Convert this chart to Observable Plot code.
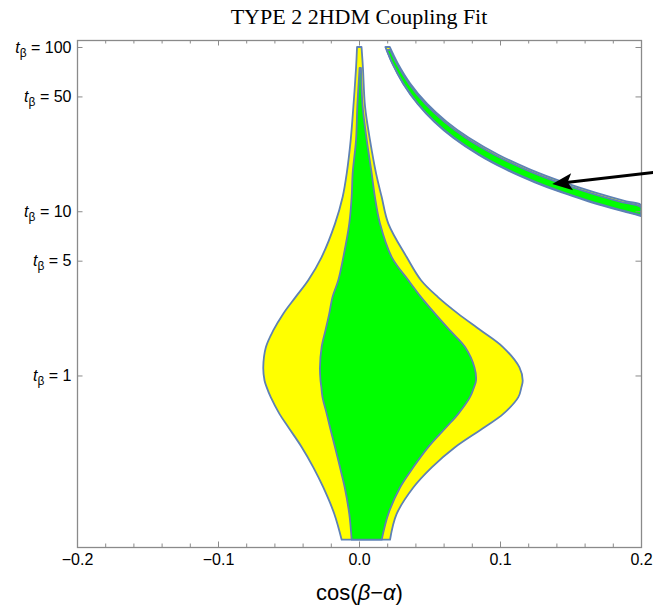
<!DOCTYPE html>
<html><head><meta charset="utf-8">
<script src="https://cdn.jsdelivr.net/npm/d3@7"></script>
<script src="https://cdn.jsdelivr.net/npm/@observablehq/plot@0.6"></script>
<style>
body{margin:0;background:#fff;}
#title{width:653px;height:26px;box-sizing:border-box;padding-left:65px;text-align:center;font-family:"Liberation Serif","Times New Roman",serif;font-size:22px;line-height:34px;color:#000;white-space:nowrap;overflow:visible;}
</style></head><body>
<div id="title">TYPE 2 2HDM Coupling Fit</div>
<div id="chart"></div>
<script>
// ---- data ----
const titleText = "TYPE 2 2HDM Coupling Fit";
const xLabel = "cos(β−α)";
const xMajorTicks = [-0.2, -0.1, 0.0, 0.1, 0.2];
const xMinorTicks = [-0.18,-0.16,-0.14,-0.12,-0.08,-0.06,-0.04,-0.02,0.02,0.04,0.06,0.08,0.12,0.14,0.16,0.18];
const yTicks = [1, 5, 10, 50, 100];

// main 2-sigma (yellow) region: t_beta samples and left / right cos(beta-alpha) edges
const tMain = [0.1,0.1435,0.208,0.276,0.366,0.484,0.584,0.738,0.849,0.932,1.12,1.49,1.88,2.38,3.0,3.8,5.26,8.41,12.2,17.0,27.1,43.3,74.5,100];
const yellowLeft  = [-0.0123,-0.0175,-0.0253,-0.0324,-0.0406,-0.0501,-0.0564,-0.0626,-0.0655,-0.0670,-0.0679,-0.0660,-0.0608,-0.0537,-0.0450,-0.0360,-0.0265,-0.0170,-0.0116,-0.0087,-0.0059,-0.0040,-0.0021,-0.0014];
const yellowRight = [0.0220,0.0267,0.0385,0.0516,0.0681,0.0890,0.1023,0.1130,0.1152,0.1161,0.1138,0.1021,0.0865,0.0702,0.0560,0.0440,0.0338,0.0208,0.0161,0.0121,0.0078,0.0043,0.0028,0.0018];

// main 1-sigma (green) region
const tGreen = [0.1,0.1435,0.208,0.276,0.366,0.484,0.584,0.738,0.849,0.932,1.12,1.49,1.88,2.38,3.0,3.8,5.26,8.41,12.2,17.0,27.1,43.3,74.5];
const greenLeft  = [-0.0052,-0.0069,-0.0101,-0.0135,-0.0170,-0.0206,-0.0229,-0.0259,-0.0267,-0.0273,-0.0277,-0.0265,-0.0238,-0.0211,-0.0188,-0.0147,-0.0111,-0.0069,-0.0052,-0.0045,-0.0021,-0.0012,0.0004];
const greenRight = [0.0161,0.0208,0.0291,0.0385,0.0491,0.0619,0.0704,0.0787,0.0816,0.0830,0.0819,0.0752,0.0645,0.0539,0.0440,0.0350,0.0232,0.0149,0.0113,0.0090,0.0055,0.0026,0.0014];

// wrong-sign band (upper right)
const tBandY = [100,80,60,45,35,28,22,18,15,13,11.5,10.9,10,9.35];
const bandYellowLeft  = [0.0187,0.0234,0.0312,0.0416,0.0534,0.0668,0.0850,0.1039,0.1247,0.1438,0.1626,0.1716,0.187,0.2];
const bandYellowRight = [0.0218,0.0273,0.0363,0.0484,0.0623,0.0779,0.0991,0.1211,0.1453,0.1677,0.1896,0.2,0.2,0.2];
const tBandG = [96,80,60,45,35,28,22,18,15,13,11.5,10.6,10,9.45];
const bandGreenLeft  = [0.0197,0.0236,0.0315,0.0420,0.0540,0.0675,0.0859,0.1050,0.1260,0.1454,0.1643,0.1783,0.189,0.2];
const bandGreenRight = [0.0221,0.0265,0.0353,0.0471,0.0606,0.0757,0.0964,0.1178,0.1413,0.1631,0.1843,0.2,0.2,0.2];

// annotation arrow: tail -> tip (cos, t_beta)
const arrowTail = [0.215, 17.6];
const arrowTip = [0.1367, 14.75];

// ---- build tables ----
const mk = (ts, l, r) => ts.map((t, i) => ({t, x1: l[i], x2: r[i]}));
const yellow = mk(tMain, yellowLeft, yellowRight);
const green = mk(tGreen, greenLeft, greenRight);
const bandY = mk(tBandY, bandYellowLeft, bandYellowRight);
const bandG = mk(tBandG, bandGreenLeft, bandGreenRight);
const arrows = [{x1: arrowTail[0], y1: arrowTail[1], x2: arrowTip[0], y2: arrowTip[1]}];

const W = 653, H = 582, mL = 77, mR = 12, mT = 14, mB = 61;
const fw = W - mL - mR, fh = H - mT - mB;
const frameColor = "#8a8a8a";
const edge = "#5e81b5";
const YEL = "#ffff00", GRN = "#00ff00";

const arrowHead = {draw(ctx) { ctx.moveTo(0, 0); ctx.lineTo(8.5, 20); ctx.lineTo(0, 15.5); ctx.lineTo(-8.5, 20); ctx.closePath(); }};

const areaOpts = (fill) => ({y: "t", x1: "x1", x2: "x2", fill, stroke: edge, strokeWidth: 1.8, strokeLinejoin: "round", curve: "catmull-rom"});

const chart = Plot.plot({
  width: W, height: H,
  marginLeft: mL, marginRight: mR, marginTop: mT, marginBottom: mB,
  style: {fontFamily: "'Liberation Sans', Arial, sans-serif", fontSize: "16px", background: "#fff", overflow: "visible"},
  x: {domain: [-0.2, 0.2]},
  y: {type: "log", domain: [0.0903, 110.3]},
  marks: [
    Plot.areaX(yellow, areaOpts(YEL)),
    Plot.areaX(green, areaOpts(GRN)),
    Plot.areaX(bandY, {...areaOpts(YEL), clip: true}),
    Plot.areaX(bandG, {...areaOpts(GRN), clip: true}),
    Plot.frame({stroke: frameColor, strokeWidth: 1.3}),
    Plot.tickX(xMajorTicks, {x: d => d, insetTop: fh - 5.5, stroke: frameColor}),
    Plot.tickX(xMajorTicks, {x: d => d, insetBottom: fh - 5.5, stroke: frameColor}),
    Plot.tickX(xMinorTicks, {x: d => d, insetTop: fh - 3.5, stroke: frameColor}),
    Plot.tickX(xMinorTicks, {x: d => d, insetBottom: fh - 3.5, stroke: frameColor}),
    Plot.tickY(yTicks, {y: d => d, insetRight: fw - 5.5, stroke: frameColor}),
    Plot.tickY(yTicks, {y: d => d, insetLeft: fw - 5.5, stroke: frameColor}),
    Plot.axisX(xMajorTicks, {anchor: "bottom", tickSize: 0, tickPadding: 6, tickFormat: d3.format(".1f"), label: null, fontSize: 16}),
    Plot.axisY(yTicks, {anchor: "left", tickSize: 0, tickPadding: 6, tickFormat: d => `tβ = ${d}`, label: null, fontSize: 16}),
    Plot.text([xLabel], {frameAnchor: "bottom", dy: 45, text: d => d, fontSize: 22, lineAnchor: "middle"}),
    Plot.arrow(arrows, {x1: "x1", y1: "y1", x2: "x2", y2: "y2", stroke: "black", strokeWidth: 3, headLength: 0, insetEnd: 12}),
    Plot.dot(arrows, {x: "x2", y: "y2", symbol: arrowHead, r: 5, fill: "black", stroke: null, rotate: -96.5})
  ]
});
document.getElementById("chart").appendChild(chart);

// italic t with subscript beta in y tick labels
d3.select(chart).selectAll('g[aria-label="y-axis tick label"] text').each(function() {
  const el = d3.select(this);
  const val = el.text().split(" = ")[1];
  el.text(null);
  el.append("tspan").attr("font-style", "italic").text("t");
  el.append("tspan").attr("dy", 4).attr("font-size", 12).text("β");
  el.append("tspan").attr("dy", -4).text(" = " + val);
});
// italic greek letters in x label
d3.select(chart).selectAll('g[aria-label="text"] text').each(function() {
  const el = d3.select(this);
  if (el.text() !== xLabel) return;
  el.text(null);
  el.append("tspan").text("cos(");
  el.append("tspan").attr("font-style", "italic").text("β");
  el.append("tspan").text("−");
  el.append("tspan").attr("font-style", "italic").text("α");
  el.append("tspan").text(")");
});
</script>
</body></html>
